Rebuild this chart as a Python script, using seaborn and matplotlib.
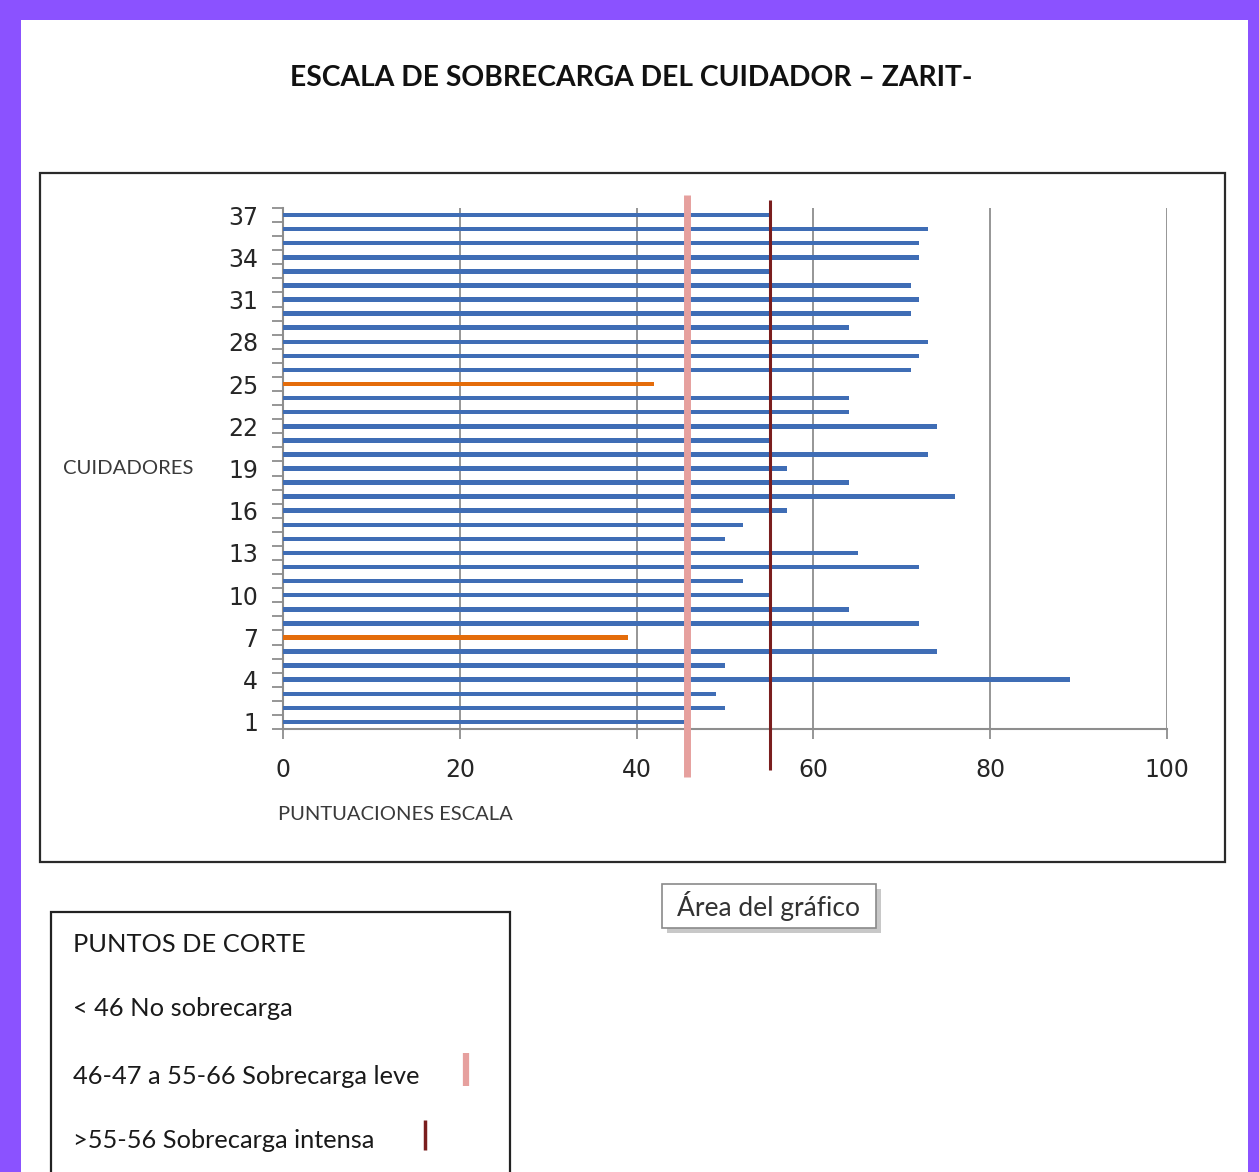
import matplotlib
matplotlib.use("Agg")
import matplotlib.pyplot as plt
from matplotlib.patches import Rectangle
from matplotlib.lines import Line2D
import seaborn as sns
import pandas as pd
import numpy as np

# ---- data ----
cuidadores = list(range(1, 38))
puntuaciones = [46, 50, 49, 89, 50, 74, 39, 72, 64, 55, 52, 72, 65, 50, 52, 57, 76, 64, 57, 73,
                55, 74, 64, 64, 42, 71, 72, 73, 64, 71, 72, 71, 55, 72, 72, 73, 55]
corte_leve = 45.7
corte_intensa = 55.1
x_ticks = [0, 20, 40, 60, 80, 100]
y_tick_labels = list(range(1, 38, 3))

titulo = "ESCALA DE SOBRECARGA DEL CUIDADOR \u2013 ZARIT-"
legend_lines = ["PUNTOS DE CORTE", "< 46 No sobrecarga",
                "46-47 a 55-66 Sobrecarga leve", ">55-56 Sobrecarga intensa"]

grupo = ["No sobrecarga" if v < 46 else "Sobrecarga" for v in puntuaciones]
df = pd.DataFrame({"cuidador": cuidadores, "score": puntuaciones, "grupo": grupo})

BLUE = "#3F6DB5"
ORANGE = "#E46C0A"
PINK = "#E6A09E"
DARKRED = "#7A1E1E"
PURPLE = "#8B52FF"
GRID = "#8E8E8E"
TXT = "#3A3A3A"
TICKTXT = "#262626"

W, H = 1259, 1172
sns.set_theme(style="white")
plt.rcParams['font.family'] = ['Lato', 'DejaVu Sans']

fig = plt.figure(figsize=(W / 100, H / 100), dpi=100)
fig.patch.set_facecolor(PURPLE)

def fx(x):
    return x / W

def fy(y):
    return 1 - y / H

# white page
fig.patches.append(Rectangle((fx(21), 0), fx(1248) - fx(21), fy(20), transform=fig.transFigure,
                             facecolor="white", edgecolor="none", zorder=-5))
# chart area box
fig.patches.append(Rectangle((fx(40), fy(862)), fx(1225) - fx(40), fy(173) - fy(862),
                             transform=fig.transFigure, facecolor="none", edgecolor="#2a2a2a",
                             linewidth=1.6, zorder=-4))

ax = fig.add_axes([fx(283), fy(729), fx(1167) - fx(283), fy(208) - fy(729)])
ax.set_facecolor("none")
ax.set_zorder(2)

sns.barplot(data=df, x="score", y="cuidador", hue="grupo", orient="h", native_scale=True,
            palette={"Sobrecarga": BLUE, "No sobrecarga": ORANGE}, width=0.32, dodge=False,
            legend=False, saturation=1, ax=ax, zorder=3, linewidth=0)

ax.set_xlim(0, 100)
ax.set_ylim(0.5, 37.5)
ax.set_xticks(x_ticks)
ax.set_xticklabels([str(t) for t in x_ticks], family="DejaVu Sans", fontsize=17, color=TICKTXT)
ax.set_yticks(y_tick_labels)
ax.set_yticklabels([str(t) for t in y_tick_labels], family="DejaVu Sans", fontsize=17,
                   color=TICKTXT)
ax.set_yticks(np.arange(0.5, 38, 1), minor=True)
ax.tick_params(axis="y", which="both", left=True)
ax.tick_params(axis="x", which="both", bottom=True)
ax.tick_params(axis="y", which="major", length=0, pad=18)
ax.tick_params(axis="y", which="minor", length=8, width=1.3, color=GRID, direction="out")
ax.tick_params(axis="x", which="major", length=7, width=1.3, color=GRID, direction="out", pad=14)
ax.set_xlabel("")
ax.set_ylabel("")

for t in x_ticks[1:]:
    ax.axvline(t, color=GRID, lw=1.3, zorder=1)

for s in ["top", "right"]:
    ax.spines[s].set_visible(False)
for s in ["left", "bottom"]:
    ax.spines[s].set_color(GRID)
    ax.spines[s].set_linewidth(1.5)

# cut-off lines
ax.axvline(corte_leve, ymin=-0.092, ymax=1.025, color=PINK, lw=5, zorder=5, clip_on=False,
           solid_capstyle="butt")
ax.axvline(corte_intensa, ymin=-0.079, ymax=1.015, color=DARKRED, lw=2.2, zorder=6,
           clip_on=False, solid_capstyle="butt")

# texts
fig.text(fx(631), fy(78), titulo, ha="center", va="center", fontsize=20.3, fontweight="bold",
         color="#111111")
fig.text(fx(128), fy(469), "CUIDADORES", ha="center", va="center", fontsize=14.6, color=TXT)
fig.text(fx(395), fy(815), "PUNTUACIONES ESCALA", ha="center", va="center", fontsize=14.5,
         color=TXT)

# tooltip
fig.patches.append(Rectangle((fx(667), fy(933)), fx(881) - fx(667), fy(889) - fy(933),
                             transform=fig.transFigure, facecolor="#c8c8c8", edgecolor="none",
                             zorder=-3))
fig.patches.append(Rectangle((fx(662), fy(928)), fx(876) - fx(662), fy(884) - fy(928),
                             transform=fig.transFigure, facecolor="white", edgecolor="#8a8a8a",
                             linewidth=1.2, zorder=-2))
fig.text(fx(768), fy(906), "\u00c1rea del gr\u00e1fico", ha="center", va="center",
         fontsize=19, color="#333333", zorder=3)

# legend box
fig.patches.append(Rectangle((fx(51), fy(1180)), fx(510) - fx(51), fy(912) - fy(1180),
                             transform=fig.transFigure, facecolor="none", edgecolor="#222222",
                             linewidth=1.6, zorder=-2))
for txt, yy in zip(legend_lines, [944, 1009, 1076, 1141]):
    fig.text(fx(73), fy(yy), txt, ha="left", va="center", fontsize=18.3, color="#1a1a1a")
fig.lines.append(Line2D([fx(466), fx(466)], [fy(1053), fy(1086)], transform=fig.transFigure,
                        color=PINK, lw=4.5, solid_capstyle="butt"))
fig.lines.append(Line2D([fx(425), fx(425)], [fy(1120), fy(1150)], transform=fig.transFigure,
                        color=DARKRED, lw=2.5, solid_capstyle="butt"))

fig.savefig("out.png", dpi=100, facecolor=fig.get_facecolor())
